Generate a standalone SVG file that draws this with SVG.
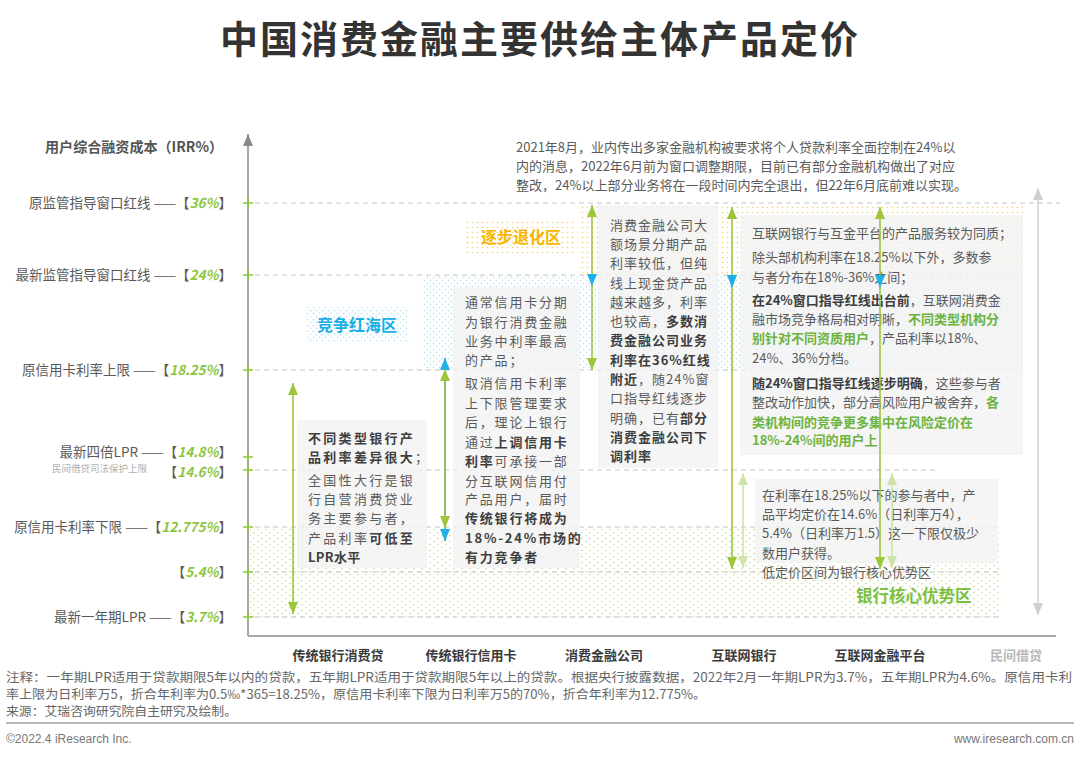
<svg xmlns="http://www.w3.org/2000/svg" width="1080" height="758" viewBox="0 0 1080 758">
<style>
.cn{font-family:"Noto Sans CJK SC","Noto Sans",sans-serif}
.t{font-family:"Noto Sans CJK SC","Noto Sans",sans-serif;font-size:13px;fill:#5a5a5a}
.b{font-weight:bold;fill:#3e3e3e}
.g{font-weight:bold;fill:#6db33f}
.ax{font-family:"Noto Sans CJK SC","Noto Sans",sans-serif;font-size:13.5px;fill:#595959}
.num{font-style:italic;font-weight:bold;fill:#8cc63f}
.dash{stroke:#c4c4c4;stroke-width:1;stroke-dasharray:5 4;fill:none}
.tick{stroke:#8cc63f;stroke-width:1.6}
.box{fill:#f2f2f2;opacity:0.8}
.cat{font-family:"Noto Sans CJK SC","Noto Sans",sans-serif;font-size:13px;font-weight:bold;fill:#3a3a3a;text-anchor:middle}
.note{font-family:"Noto Sans CJK SC","Noto Sans",sans-serif;font-size:12.5px;fill:#666}
</style>
<defs>
<pattern id="py" width="5" height="5" patternUnits="userSpaceOnUse"><circle cx="2.5" cy="2.5" r="0.8" fill="#f4d06a"/></pattern>
<pattern id="pb" width="6" height="6" patternUnits="userSpaceOnUse"><circle cx="1.5" cy="1.5" r="0.9" fill="#c4e7f6"/><circle cx="4.5" cy="4.5" r="0.9" fill="#c4e7f6"/></pattern>
<pattern id="pg" width="8" height="6" patternUnits="userSpaceOnUse"><circle cx="2" cy="1.5" r="0.85" fill="#c8dc96"/><circle cx="6" cy="4.5" r="0.85" fill="#c8dc96"/></pattern>
<marker id="ag" viewBox="0 0 12 10" refX="12" refY="5" markerWidth="12" markerHeight="10" markerUnits="userSpaceOnUse" orient="auto-start-reverse"><path d="M0,0L12,5L0,10z" fill="#9cc63b"/></marker>
<marker id="ac" viewBox="0 0 12 10" refX="12" refY="5" markerWidth="12" markerHeight="10" markerUnits="userSpaceOnUse" orient="auto-start-reverse"><path d="M0,0L12,5L0,10z" fill="#1eb0e6"/></marker>
<marker id="ap" viewBox="0 0 12 10" refX="12" refY="5" markerWidth="12" markerHeight="10" markerUnits="userSpaceOnUse" orient="auto-start-reverse"><path d="M0,0L12,5L0,10z" fill="#cfe4a9"/></marker>
<marker id="ax" viewBox="0 0 12 10" refX="12" refY="5" markerWidth="12" markerHeight="10" markerUnits="userSpaceOnUse" orient="auto-start-reverse"><path d="M0,0L12,5L0,10z" fill="#cfcfcf"/></marker>
<marker id="aa" viewBox="0 0 12 10" refX="12" refY="5" markerWidth="12" markerHeight="10" markerUnits="userSpaceOnUse" orient="auto"><path d="M0,0L12,5L0,10z" fill="#8a8a8a"/></marker>
</defs>
<rect width="1080" height="758" fill="#fff"/>

<text x="540" y="53" text-anchor="middle" class="cn" font-size="38" font-weight="bold" fill="#333" letter-spacing="2">中国消费金融主要供给主体产品定价</text>

<g id="zones">
<rect x="578" y="205" width="445" height="70" fill="url(#py)"/>
<rect x="465" y="218" width="112" height="37" fill="url(#py)"/>
<rect x="423" y="275" width="600" height="95" fill="url(#pb)"/>
<rect x="305" y="307" width="103" height="36" fill="url(#pb)"/>
<rect x="250" y="527" width="750" height="90" fill="url(#pg)"/>
</g>

<g id="gridlines">
<line class="dash" x1="255" y1="203" x2="1060" y2="203"/>
<line class="dash" x1="255" y1="275" x2="1023" y2="275"/>
<line class="dash" x1="255" y1="370" x2="1023" y2="370"/>
<line class="dash" x1="255" y1="470" x2="938" y2="470"/>
<line class="dash" x1="255" y1="527" x2="1000" y2="527"/>
<line class="dash" x1="255" y1="572" x2="1000" y2="572"/>
<line class="dash" x1="255" y1="617" x2="1000" y2="617"/>
</g>

<g id="axes">
<line x1="248" y1="636" x2="248" y2="134" stroke="#8a8a8a" stroke-width="1.5" marker-end="url(#aa)"/>
<line x1="248" y1="636" x2="1056" y2="636" stroke="#a8a8a8" stroke-width="2"/>
<g class="tick">
<path d="M243,203h10M248,198v10"/>
<path d="M243,275h10M248,270v10"/>
<path d="M243,370h10M248,365v10"/>
<path d="M243,457h10M248,452v10"/>
<path d="M243,470h10M248,465v10"/>
<path d="M243,527h10M248,522v10"/>
<path d="M243,572h10M248,567v10"/>
<path d="M243,617h10M248,612v10"/>
</g>
<text x="45" y="152" class="cn" font-size="14" font-weight="bold" fill="#555" textLength="178" lengthAdjust="spacingAndGlyphs">用户综合融资成本（IRR%）</text>
<text x="232" y="208" text-anchor="end" class="ax">原监管指导窗口红线 ——【<tspan class="num">36%</tspan>】</text>
<text x="232" y="280" text-anchor="end" class="ax">最新监管指导窗口红线 ——【<tspan class="num">24%</tspan>】</text>
<text x="232" y="375" text-anchor="end" class="ax">原信用卡利率上限 ——【<tspan class="num">18.25%</tspan>】</text>
<text x="232" y="457" text-anchor="end" class="ax">最新四倍LPR ——【<tspan class="num">14.8%</tspan>】</text>
<text x="52" y="472" class="cn" font-size="9.5" fill="#b0b0b0">民间借贷司法保护上限</text>
<text x="232" y="477" text-anchor="end" class="ax">【<tspan class="num">14.6%</tspan>】</text>
<text x="232" y="532" text-anchor="end" class="ax">原信用卡利率下限 ——【<tspan class="num">12.775%</tspan>】</text>
<text x="232" y="577" text-anchor="end" class="ax">【<tspan class="num">5.4%</tspan>】</text>
<text x="232" y="622" text-anchor="end" class="ax">最新一年期LPR ——【<tspan class="num">3.7%</tspan>】</text>
</g>

<g id="zone-labels">
<text x="521" y="243" text-anchor="middle" class="cn" font-size="16" font-weight="bold" fill="#f7b500">逐步退化区</text>
<text x="357" y="331" text-anchor="middle" class="cn" font-size="16" font-weight="bold" fill="#19aee6">竞争红海区</text>
<text x="856" y="602" class="cn" font-size="16.5" font-weight="bold" fill="#7cc043">银行核心优势区</text>
</g>

<g id="top-note">
<text class="t" font-size="13.7"><tspan x="516" y="152">2021年8月，业内传出多家金融机构被要求将个人贷款利率全面控制在24%以</tspan><tspan x="516" y="171">内的消息，2022年6月前为窗口调整期限，目前已有部分金融机构做出了对应</tspan><tspan x="516" y="190">整改，24%以上部分业务将在一段时间内完全退出，但22年6月底前难以实现。</tspan></text>
</g>

<g id="box-bank-loan">
<rect class="box" x="297" y="420" width="130" height="148"/>
<text class="t" letter-spacing="2.3">
<tspan x="308" y="443" class="b">不同类型银行产</tspan>
<tspan x="308" y="462"><tspan class="b">品利率差异很大</tspan>；</tspan>
<tspan x="308" y="485">全国性大行是银</tspan>
<tspan x="308" y="504">行自营消费贷业</tspan>
<tspan x="308" y="523">务主要参与者，</tspan>
<tspan x="308" y="543">产品利率<tspan class="b">可低至</tspan></tspan>
</text>
<text x="308" y="562" class="t b" letter-spacing="0.3">LPR水平</text>
</g>

<g id="box-credit-card">
<rect class="box" x="453" y="287" width="127" height="281"/>
<text class="t" letter-spacing="1.8">
<tspan x="465" y="307">通常信用卡分期</tspan>
<tspan x="465" y="327">为银行消费金融</tspan>
<tspan x="465" y="346">业务中利率最高</tspan>
<tspan x="465" y="365">的产品；</tspan>
<tspan x="465" y="388">取消信用卡利率</tspan>
<tspan x="465" y="408">上下限管理要求</tspan>
<tspan x="465" y="427">后，理论上银行</tspan>
<tspan x="465" y="447">通过<tspan class="b">上调信用卡</tspan></tspan>
<tspan x="465" y="466"><tspan class="b">利率</tspan>可承接一部</tspan>
<tspan x="465" y="486">分互联网信用付</tspan>
<tspan x="465" y="504">产品用户，届时</tspan>
<tspan x="465" y="523" class="b">传统银行将成为</tspan>
<tspan x="465" y="543" class="b">18%-24%市场的</tspan>
<tspan x="465" y="562" class="b">有力竞争者</tspan>
</text>
</g>

<g id="box-cfc">
<rect class="box" x="598" y="205" width="120" height="263"/>
<text class="t" letter-spacing="1">
<tspan x="610" y="229.5">消费金融公司大</tspan>
<tspan x="610" y="249">额场景分期产品</tspan>
<tspan x="610" y="268">利率较低，但纯</tspan>
<tspan x="610" y="287.5">线上现金贷产品</tspan>
<tspan x="610" y="306.5">越来越多，利率</tspan>
<tspan x="610" y="326">也较高，<tspan class="b">多数消</tspan></tspan>
<tspan x="610" y="345" class="b">费金融公司业务</tspan>
<tspan x="610" y="364.5" class="b">利率在36%红线</tspan>
<tspan x="610" y="384"><tspan class="b">附近</tspan>，随24%窗</tspan>
<tspan x="610" y="403">口指导红线逐步</tspan>
<tspan x="610" y="422.5">明确，已有<tspan class="b">部分</tspan></tspan>
<tspan x="610" y="441.5" class="b">消费金融公司下</tspan>
<tspan x="610" y="461" class="b">调利率</tspan>
</text>
</g>

<g id="box-internet">
<rect class="box" x="740" y="215" width="283" height="240"/>
<text class="t" font-size="13.3">
<tspan x="752" y="237.5">互联网银行与互金平台的产品服务较为同质；</tspan>
<tspan x="752" y="261.5">除头部机构利率在18.25%以下外，多数参</tspan>
<tspan x="752" y="281.5">与者分布在18%-36%之间；</tspan>
<tspan x="752" y="304.5"><tspan class="b">在24%窗口指导红线出台前</tspan>，互联网消费金</tspan>
<tspan x="752" y="323.5">融市场竞争格局相对明晰，<tspan class="g">不同类型机构分</tspan></tspan>
<tspan x="752" y="342.5"><tspan class="g">别针对不同资质用户</tspan>，产品利率以18%、</tspan>
<tspan x="752" y="362.5">24%、36%分档。</tspan>
<tspan x="752" y="387.5"><tspan class="b">随24%窗口指导红线逐步明确</tspan>，这些参与者</tspan>
<tspan x="752" y="406.5">整改动作加快，部分高风险用户被舍弃，<tspan class="g">各</tspan></tspan>
<tspan x="752" y="426.5" class="g">类机构间的竞争更多集中在风险定价在</tspan>
<tspan x="752" y="444.5" class="g">18%-24%间的用户上</tspan>
</text>
</g>

<g id="box-low-price">
<rect class="box" x="755" y="479" width="243" height="84"/>
<text class="t" font-size="13.5">
<tspan x="762" y="499.5">在利率在18.25%以下的参与者中，产</tspan>
<tspan x="762" y="518.5">品平均定价在14.6%（日利率万4），</tspan>
<tspan x="762" y="537.5">5.4%（日利率万1.5）这一下限仅极少</tspan>
<tspan x="762" y="557.5">数用户获得。</tspan>
<tspan x="762" y="576.5">低定价区间为银行核心优势区</tspan>
</text>
</g>

<g id="connectors" fill="none" stroke-width="1.6">
<line x1="293" y1="383" x2="293" y2="614" stroke="#9cc63b" marker-start="url(#ag)" marker-end="url(#ag)"/>
<line x1="445" y1="358" x2="445" y2="541" stroke="#1eb0e6" marker-start="url(#ac)" marker-end="url(#ac)"/>
<line x1="445" y1="369" x2="445" y2="528" stroke="#9cc63b" marker-start="url(#ag)" marker-end="url(#ag)"/>
<line x1="592" y1="205" x2="592" y2="370" stroke="#9cc63b" marker-start="url(#ag)" marker-end="url(#ag)"/>
<line x1="732" y1="207" x2="732" y2="569" stroke="#9cc63b" marker-start="url(#ag)" marker-end="url(#ag)"/>
<line x1="880" y1="207" x2="880" y2="569" stroke="#9cc63b" marker-start="url(#ag)" marker-end="url(#ag)"/>
<line x1="743" y1="473" x2="743" y2="568" stroke="#cfe4a9" marker-start="url(#ap)" marker-end="url(#ap)"/>
<line x1="892" y1="473" x2="892" y2="568" stroke="#cfe4a9" marker-start="url(#ap)" marker-end="url(#ap)"/>
<line x1="1038" y1="188" x2="1038" y2="615" stroke="#d2d2d2" marker-start="url(#ax)" marker-end="url(#ax)"/>
<g stroke="none" fill="#1eb0e6">
<path d="M587,274L597,274L592,286z"/>
<path d="M727,275L737,275L732,288z"/>
<path d="M875,275L885,275L880,288z"/>
</g>
</g>

<g id="categories">
<text x="338" y="660" class="cat">传统银行消费贷</text>
<text x="471" y="660" class="cat">传统银行信用卡</text>
<text x="604" y="660" class="cat">消费金融公司</text>
<text x="744" y="660" class="cat">互联网银行</text>
<text x="880" y="660" class="cat">互联网金融平台</text>
<text x="1016" y="660" class="cat" style="fill:#b8b8b8">民间借贷</text>
</g>

<g id="footer">
<text x="6" y="682" class="note" textLength="1066" lengthAdjust="spacingAndGlyphs">注释：一年期LPR适用于贷款期限5年以内的贷款，五年期LPR适用于贷款期限5年以上的贷款。根据央行披露数据，2022年2月一年期LPR为3.7%，五年期LPR为4.6%。原信用卡利</text>
<text x="6" y="699" class="note" textLength="700" lengthAdjust="spacingAndGlyphs">率上限为日利率万5，折合年利率为0.5‰*365=18.25%，原信用卡利率下限为日利率万5的70%，折合年利率为12.775%。</text>
<text x="6" y="716" class="note" textLength="231" lengthAdjust="spacingAndGlyphs">来源：艾瑞咨询研究院自主研究及绘制。</text>
<line x1="6" y1="723" x2="1074" y2="723" stroke="#a0a0a0" stroke-width="1.5"/>
<text x="6" y="743" font-family="Liberation Sans, Arial, sans-serif" font-size="12" fill="#777">©2022.4 iResearch Inc.</text>
<text x="1074" y="743" text-anchor="end" font-family="Liberation Sans, Arial, sans-serif" font-size="12" fill="#777">www.iresearch.com.cn</text>
</g>
</svg>
